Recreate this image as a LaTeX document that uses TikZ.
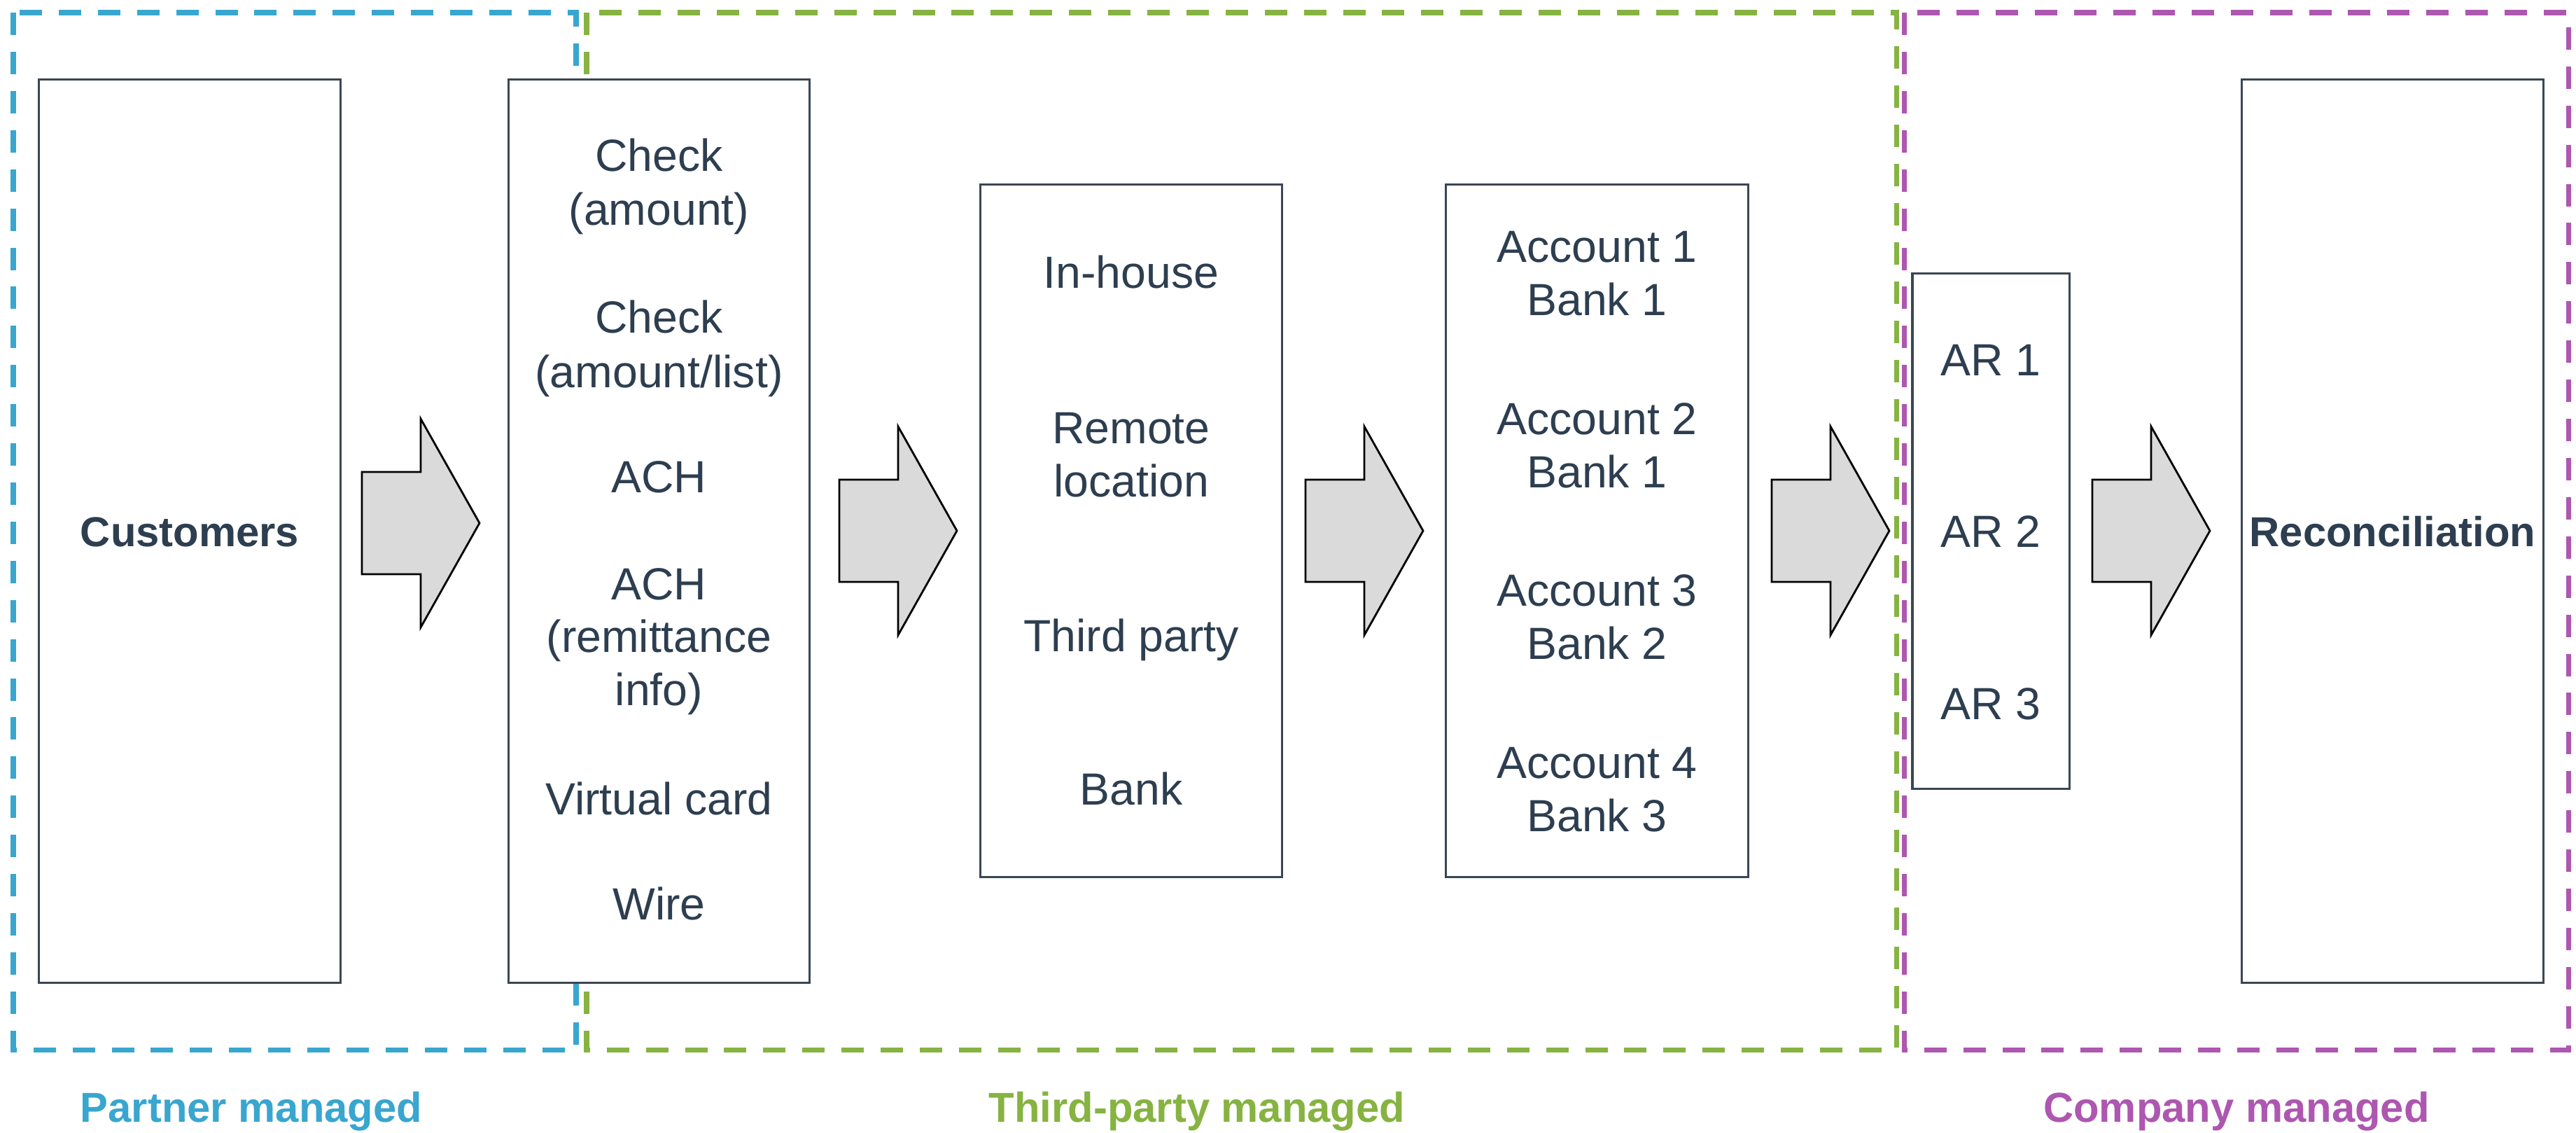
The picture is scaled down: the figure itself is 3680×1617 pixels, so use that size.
\documentclass[tikz,border=0pt]{standalone}
\usepackage{fontspec}
\setmainfont{Liberation Sans}
\definecolor{ink}{HTML}{2D3E50}
\definecolor{boxline}{HTML}{3B4654}
\definecolor{partner}{HTML}{39A6CF}
\definecolor{thirdp}{HTML}{86B341}
\definecolor{company}{HTML}{AD57B0}
\definecolor{arrowfill}{HTML}{DADADA}
\begin{document}
\begin{tikzpicture}[x=0.01cm,y=-0.01cm,
  frame/.style={line width=2pt, dash pattern=on 9.1pt off 6.8pt},
  box/.style={draw=boxline, line width=0.9pt, fill=white, inner sep=0pt},
  item/.style={anchor=base, text=ink, inner sep=0pt, font=\fontsize{18.3}{22}\selectfont},
  head/.style={anchor=base, text=ink, inner sep=0pt, font=\fontsize{17}{20}\selectfont\bfseries},
  zone/.style={anchor=base, inner sep=0pt, font=\fontsize{17}{20}\selectfont\bfseries},
  flow/.style={draw=black, line width=0.8pt, fill=arrowfill, line join=miter},
  flowarrow/.pic={\draw[flow] (0,-73) -- (84,-73) -- (84,-149) -- (168,0)
                   -- (84,149) -- (84,73) -- (0,73) -- cycle;}]
\useasboundingbox (0,0) rectangle (3680,1617);

% responsibility zones
\draw[frame, partner] (19,18) rectangle (823,1499);
\draw[frame, thirdp]  (838,18) rectangle (2709,1499);
\draw[frame, company] (2720,18) rectangle (3669,1499);

% stage boxes
\node[box, minimum width=4.30cm, minimum height=12.89cm] (cust) at (271,758.5) {};
\node[box, minimum width=4.29cm, minimum height=12.89cm] (pay)  at (941.5,758.5) {};
\node[box, minimum width=4.30cm, minimum height=9.88cm]  (chan) at (1616,758) {};
\node[box, minimum width=4.31cm, minimum height=9.88cm]  (acct) at (2281.5,758) {};
\node[box, minimum width=2.24cm, minimum height=7.35cm]  (ar)   at (2844,758.5) {};
\node[box, minimum width=4.30cm, minimum height=12.89cm] (rec)  at (3418,758.5) {};

% stage titles
\node[head] (custT) at (271,780) {Customers};
\node[head] (recT)  at (3418,780) {Reconciliation};

% payment methods
\foreach \y/\t [count=\i] in {244/Check, 321/(amount), 475/Check, 553/{(amount/list)},
    703/ACH, 856/ACH, 931/(remittance, 1007/info), 1163/Virtual card, 1313/Wire}
  \node[item] (pay-\i) at (941.5,\y) {\t};

% collection channels
\foreach \y/\t [count=\i] in {411/In-house, 633/Remote, 709/location,
    930/Third party, 1149/Bank}
  \node[item] (chan-\i) at (1616,\y) {\t};

% deposit accounts
\foreach \y/\t [count=\i] in {374/Account 1, 450/Bank 1, 620/Account 2, 696/Bank 1,
    865/Account 3, 941/Bank 2, 1111/Account 4, 1187/Bank 3}
  \node[item] (acct-\i) at (2281.5,\y) {\t};

% receivables ledgers
\foreach \y/\t [count=\i] in {536/AR 1, 781/AR 2, 1027/AR 3}
  \node[item] (ar-\i) at (2844,\y) {\t};

% flow arrows between stages
\pic at (517,747)  {flowarrow};
\pic at (1199,758) {flowarrow};
\pic at (1865,758) {flowarrow};
\pic at (2531,758) {flowarrow};
\pic at (2989,758) {flowarrow};

% zone captions
\node[zone, text=partner] (zoneP) at (359,1602)  {Partner managed};
\node[zone, text=thirdp]  (zoneT) at (1710,1602) {Third-party managed};
\node[zone, text=company] (zoneC) at (3195,1602) {Company managed};
\end{tikzpicture}
\end{document}
